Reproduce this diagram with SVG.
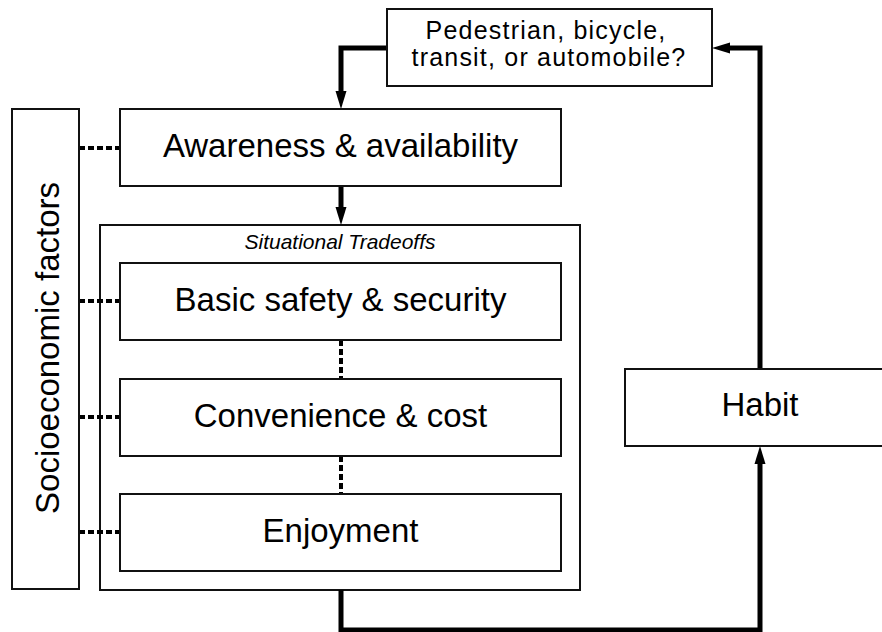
<svg xmlns="http://www.w3.org/2000/svg" width="882" height="632" viewBox="0 0 882 632">
  <defs>
    <style>
      .box { fill: #ffffff; stroke: #111111; stroke-width: 2; }
      .lbl { font-family: "Liberation Sans", Arial, Helvetica, sans-serif; fill: #000000; text-anchor: middle; }
      .big { font-size: 33px; }
      .small { font-size: 25px; letter-spacing: 1.2px; }
      .cap { font-size: 21px; font-style: italic; }
      .flow { fill: none; stroke: #000000; stroke-width: 5; stroke-linejoin: miter; stroke-linecap: butt; }
      .dots { fill: none; stroke: #000000; stroke-width: 4; stroke-dasharray: 6 3; }
    </style>
    <marker id="arrow" viewBox="0 -6 18 12" refX="3" refY="0" markerWidth="18" markerHeight="12" markerUnits="userSpaceOnUse" orient="auto">
      <path d="M0,-5.5 L18,0 L0,5.5 z" fill="#000000"/>
    </marker>
  </defs>

  <rect width="882" height="632" fill="#ffffff"/>

  <!-- situational tradeoffs container -->
  <g id="tradeoffs">
    <rect class="box" x="100" y="225" width="480" height="365"/>
    <text class="lbl cap" x="340" y="249">Situational Tradeoffs</text>
  </g>

  <!-- dotted relations -->
  <g id="relations">
    <line class="dots" x1="79" y1="148" x2="120" y2="148"/>
    <line class="dots" x1="79" y1="301" x2="120" y2="301"/>
    <line class="dots" x1="79" y1="417" x2="120" y2="417"/>
    <line class="dots" x1="79" y1="532" x2="120" y2="532"/>
    <line class="dots" x1="341" y1="340" x2="341" y2="379"/>
    <line class="dots" x1="341" y1="456" x2="341" y2="494"/>
  </g>

  <!-- flow connectors -->
  <g id="connectors">
    <path class="flow" d="M387,48 H341 V94" marker-end="url(#arrow)"/>
    <path class="flow" d="M341,186 V210" marker-end="url(#arrow)"/>
    <path class="flow" d="M341,590 V630 H760 V461" marker-end="url(#arrow)"/>
    <path class="flow" d="M760,369 V48 H727" marker-end="url(#arrow)"/>
  </g>

  <g id="mode-choice">
    <rect class="box" x="387" y="9" width="325" height="77"/>
    <text class="lbl small" x="546" y="39">Pedestrian, bicycle,</text>
    <text class="lbl small" x="549" y="66">transit, or automobile?</text>
  </g>

  <g id="awareness">
    <rect class="box" x="120" y="109" width="441" height="77"/>
    <text class="lbl big" x="340.5" y="157">Awareness &amp; availability</text>
  </g>

  <g id="safety">
    <rect class="box" x="120" y="263" width="441" height="77"/>
    <text class="lbl big" x="340.5" y="311">Basic safety &amp; security</text>
  </g>

  <g id="convenience">
    <rect class="box" x="120" y="379" width="441" height="77"/>
    <text class="lbl big" x="340.5" y="427">Convenience &amp; cost</text>
  </g>

  <g id="enjoyment">
    <rect class="box" x="120" y="494" width="441" height="77"/>
    <text class="lbl big" x="340.5" y="542">Enjoyment</text>
  </g>

  <g id="socioeconomic">
    <rect class="box" x="12" y="109" width="67" height="480"/>
    <text class="lbl big" transform="translate(59,348) rotate(-90)" x="0" y="0">Socioeconomic factors</text>
  </g>

  <g id="habit">
    <rect class="box" x="625" y="369" width="270" height="77"/>
    <text class="lbl big" x="760" y="416">Habit</text>
  </g>
</svg>
